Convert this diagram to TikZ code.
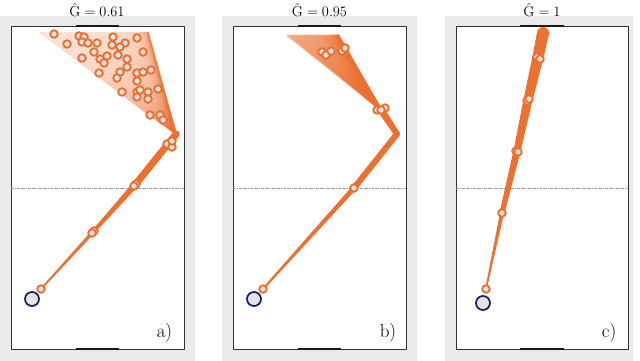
\documentclass[tikz,border=0pt]{standalone}
\usetikzlibrary{calc}
\definecolor{bggray}{RGB}{234,234,234}
\definecolor{org}{RGB}{236,112,48}
\definecolor{jfill}{RGB}{228,228,228}
\definecolor{navy}{RGB}{16,32,96}
\newcommand{\taper}[4]{%
  \fill[org] ($(#1)!#3!90:(#2)$) -- ($(#2)!#4!-90:(#1)$) -- ($(#2)!#4!90:(#1)$) -- ($(#1)!#3!-90:(#2)$) -- cycle;
  \fill[org] (#2) circle[radius=#4];}
\begin{document}
\begin{tikzpicture}[x=1pt,y=-1pt,
  panelbg/.style={fill=bggray, draw=none},
  plotbox/.style={fill=white, draw=black!80, line width=0.8pt},
  bar/.style={line width=2pt, black!90},
  midline/.style={draw=gray!80, line width=0.4pt, dash pattern=on 3pt off 1pt on 0.5pt off 1pt},
  jnt/.style={circle, draw=org, fill=jfill, line width=1.9pt, inner sep=0pt, minimum size=7.5pt},
  basej/.style={circle, draw=navy, fill=jfill, line width=1.7pt, inner sep=0pt, minimum size=14pt},
  fanline/.style={org, line width=1.5pt, opacity=0.25, line join=round},
  ttl/.style={anchor=base, font=\fontsize{15.5}{17}\selectfont},
  lbl/.style={anchor=base, font=\fontsize{19}{21}\selectfont},
]
\useasboundingbox (0,0) rectangle (640,361);

% ---------- panel backgrounds ----------
\fill[panelbg] (0,16) rectangle (195,361);
\fill[panelbg] (222,16) rectangle (417,361);
\fill[panelbg] (445,16) rectangle (633,361);
\draw[plotbox] (11,26) rectangle (184,349);
\draw[plotbox] (233,26) rectangle (406,349);
\draw[plotbox] (456,26) rectangle (628,349);
\draw[midline] (11,188) -- (184,188);
\draw[midline] (233,188) -- (406,188);
\draw[midline] (456,188) -- (628,188);
\draw[bar] (76,26) -- (119,26);  \draw[bar] (76,349) -- (119,349);
\draw[bar] (298,26) -- (341,26); \draw[bar] (298,349) -- (341,349);
\draw[bar] (520,26) -- (564,26); \draw[bar] (520,349) -- (564,349);

% ---------- titles and labels ----------
\node[ttl] (ta) at (97,17) {$\hat{\mathrm{G}} = 0.61$};
\node[ttl] (tb) at (319.5,17) {$\hat{\mathrm{G}} = 0.95$};
\node[ttl] (tc) at (542,17) {$\hat{\mathrm{G}} = 1$};
\node[lbl] (la) at (164.5,337) {a)};
\node[lbl] (lb) at (388,337) {b)};
\node[lbl] (lc) at (609,337) {c)};

% ---------- panel a ----------
\coordinate (a0) at (41,289);
\coordinate (a1) at (93,232);
\coordinate (a2) at (135,185);
\coordinate (aB) at (176,134);
\foreach \i in {0,...,60}{
  \pgfmathsetmacro{\s}{1-(1-\i/60)^2}
  \draw[fanline] (aB) -- (150+20*\s,116-4*\s) -- (40+108*\s,32);
}
\taper{a0}{a1}{0.8pt}{1.8pt}
\taper{a1}{a2}{1.8pt}{3pt}
\taper{a2}{aB}{3.5pt}{3.5pt}
\foreach \p [count=\k] in {(54,34),(67,44),(79,36),(84,37),(82,42),(88,43),(97,43),(94,52),(82,58),(113,37),(112,45),(125,43),(137,38),(120,47),(107,56),(118,55),(100,59),(104,63),(127,59),(143,52),(127,67),(99,73),(120,72),(117,78),(137,73),(143,72),(151,70),(137,81),(122,92),(137,92),(140,90),(148,92),(158,89),(137,97),(148,99),(150,115),(160,115),(163,120),(167,144),(172,147),(172,141)}
  \node[jnt] (af\k) at \p {};
\node[jnt] (a2b) at (136,184) {};
\node[jnt] (a2c) at (134,186) {};
\node[jnt] (a1b) at (94,231) {};
\node[jnt] (a1c) at (92,233) {};
\node[jnt] (a0n) at (a0) {};
\node[basej] (abase) at (32,299) {};

% ---------- panel b ----------
\coordinate (b0) at (263,289);
\coordinate (b1) at (354,188);
\coordinate (bB) at (397,134);
\coordinate (b2) at (381,110);
\foreach \i in {0,...,50}{
  \pgfmathsetmacro{\s}{1-(1-\i/50)^2}
  \draw[fanline, line width=2.2pt, opacity=0.4] (b2) -- (287+51*\s,35);
}
\taper{b0}{b1}{1pt}{2.5pt}
\taper{b1}{bB}{3pt}{3pt}
\taper{bB}{b2}{3pt}{3.5pt}
\node[jnt] (b2a) at (377,110) {};
\node[jnt] (b2b) at (385,108) {};
\node[jnt] (b2c) at (381,110) {};
\foreach \p [count=\k] in {(322,52),(326,55),(331,51),(342,51),(345,48)}
  \node[jnt] (bf\k) at \p {};
\node[jnt] (b1n) at (b1) {};
\node[jnt] (b0n) at (b0) {};
\node[basej] (bbase) at (254,299) {};

% ---------- panel c ----------
\coordinate (c0) at (486,289);
\coordinate (c1) at (502,213);
\coordinate (c2) at (517,151);
\coordinate (c3) at (528,100);
\coordinate (c4) at (538,57);
\coordinate (cT) at (543,33);
\taper{c0}{c1}{0.8pt}{2pt}
\taper{c1}{c2}{2.5pt}{3.5pt}
\taper{c2}{c3}{3.5pt}{4.5pt}
\taper{c3}{c4}{4.5pt}{5.5pt}
\taper{c4}{cT}{5.5pt}{6pt}
\node[jnt] (c4a) at (537,57) {};
\node[jnt] (c4b) at (540,59) {};
\node[jnt] (c3a) at (527,101) {};
\node[jnt] (c3b) at (529,99) {};
\node[jnt] (c2a) at (516,151) {};
\node[jnt] (c2b) at (518,152) {};
\node[jnt] (c1n) at (c1) {};
\node[jnt] (c0n) at (c0) {};
\node[basej] (cbase) at (483,303) {};
\end{tikzpicture}
\end{document}
